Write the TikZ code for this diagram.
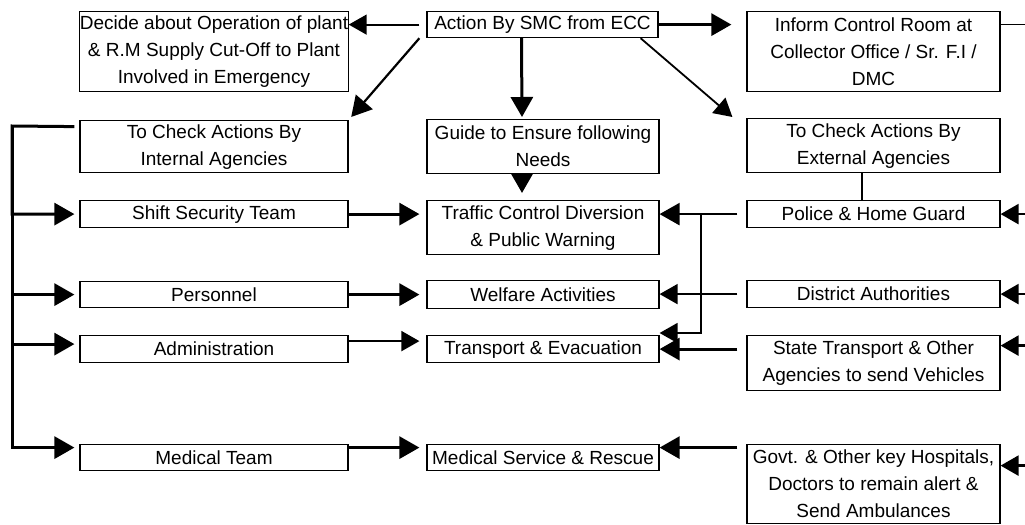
\documentclass[tikz,border=0pt]{standalone}
\usepackage{fontspec}
\setmainfont{Liberation Sans}
\usetikzlibrary{arrows.meta}
\begin{document}
\begin{tikzpicture}[x=0.5pt, y=-0.5pt,
    box/.style = {draw, line width=0.6pt, anchor=north, align=center, inner sep=0pt, font=\fontsize{9.5}{13.5}\selectfont},
    lbox/.style = {box, minimum width=134pt},
    mbox/.style = {box, minimum width=116pt},
    rbox/.style = {box, minimum width=126.5pt},
    arr/.style = {line width=1.5pt, -{Triangle[length=10pt, width=11pt]}},
    thinarr/.style = {line width=0.9pt, -{Triangle[length=9pt, width=10pt]}},
    link/.style = {line width=0.8pt}]
    \useasboundingbox (0,0) rectangle (1025,525);
    \node[lbox, minimum height=40pt] (decide) at (214,11) {Decide about Operation of plant\\ \& R.M Supply Cut-Off to Plant\\ Involved in Emergency};
    \node[mbox, minimum height=13pt, minimum width=115.5pt] (smc) at (542.5,11) {Action By SMC from ECC};
    \node[rbox, minimum height=40pt] (inform) at (873.5,11) {Inform Control Room at\\ Collector Office / Sr. F.I /\\ DMC};
    \node[lbox, minimum height=26pt] (intchk) at (214,120) {To Check Actions By\\ Internal Agencies};
    \node[mbox, minimum height=27pt] (guide) at (543,119) {Guide to Ensure following\\ Needs};
    \node[rbox, minimum height=27pt] (extchk) at (873.5,118) {To Check Actions By\\ External Agencies};
    \node[lbox, minimum height=13.5pt] (shift) at (214,200) {Shift Security Team};
    \node[mbox, minimum height=27pt] (traffic) at (543,200) {Traffic Control Diversion\\ \& Public Warning};
    \node[rbox, minimum height=13.5pt] (police) at (873.5,200) {Police \& Home Guard};
    \node[lbox, minimum height=13pt] (personnel) at (214,281) {Personnel};
    \node[mbox, minimum height=14pt] (welfare) at (543,280) {Welfare Activities};
    \node[rbox, minimum height=13.5pt] (district) at (873.5,280) {District Authorities};
    \node[lbox, minimum height=13.5pt] (admin) at (214,335) {Administration};
    \node[mbox, minimum height=13.5pt] (transport) at (543,335) {Transport \& Evacuation};
    \node[rbox, minimum height=27.5pt] (state) at (873.5,335) {State Transport \& Other\\ Agencies to send Vehicles};
    \node[lbox, minimum height=13pt] (medteam) at (214,444) {Medical Team};
    \node[mbox, minimum height=13pt] (medserv) at (543,444) {Medical Service \& Rescue};
    \node[rbox, minimum height=39.5pt] (govt) at (873.5,444) {Govt. \& Other key Hospitals,\\ Doctors to remain alert \&\\ Send Ambulances};
    \coordinate (lbus) at (12,126);
    \coordinate (rbus) at (701,0);
    \coordinate (ms) at ([yshift=5pt]medserv.east);
    \draw[thinarr, shorten <=3.5pt] (smc.west) -- (smc.west -| decide.east);
    \draw[arr, shorten >=7.5pt] (smc.east) -- (smc.east -| inform.west);
    \draw[arr, line width=1.1pt, shorten >=2pt] ([xshift=-3.5pt]smc.south west) -- (intchk.north east);
    \draw[arr] ([xshift=-10.5pt]smc.south) -- ([xshift=-10.5pt,yshift=1pt]guide.north);
    \draw[thinarr] ([xshift=-9pt]smc.south east) -- ([xshift=-7pt,yshift=0.5pt]extchk.north west);
    \draw[arr] ([xshift=-10.5pt]guide.south) -- ([xshift=-10.5pt,yshift=3.5pt]traffic.north);
    \draw[link, line width=1pt] ([xshift=-5.75pt]extchk.south) -- ([xshift=-5.75pt]police.north);
    \draw[arr, shorten >=2.5pt] ([xshift=-2.5pt,yshift=10pt]intchk.west) -- (lbus) |- (shift.west);
    \draw[arr, shorten >=2.5pt] (lbus) |- (personnel.west);
    \draw[arr, shorten >=2.5pt] (lbus) |- ([yshift=2.5pt]admin.west);
    \draw[arr, shorten >=2.5pt] (lbus) |- ([yshift=5pt]medteam.west);
    \draw[arr, shorten >=3.5pt] (shift.east) -- (shift.east -| traffic.west);
    \draw[arr, shorten >=3.5pt] (personnel.east) -- (welfare.west);
    \draw[thinarr, shorten >=3.5pt] ([yshift=4pt]admin.east) -- ([yshift=4pt]transport.west);
    \draw[arr, shorten >=3.5pt] ([yshift=5pt]medteam.east) -- ([yshift=5pt]medserv.west);
    \draw[arr, line width=1.2pt, shorten <=4.5pt] (police.west) -- (police.west -| traffic.east);
    \draw[thinarr, line width=0.8pt] (rbus |- police.west) |- ([yshift=1pt]transport.north east);
    \draw[thinarr, line width=0.8pt, shorten <=4.5pt] (district.west) -- (district.west -| welfare.east);
    \draw[arr, shorten <=4.5pt] (state.west |- transport.east) -- (transport.east);
    \draw[arr, shorten <=4.5pt] (govt.west |- ms) -- (ms);
    \draw[thinarr, line width=1.2pt] ([xshift=12.5pt]police.east) -- (police.east);
    \draw[thinarr, line width=1.2pt] ([xshift=12.5pt]district.east) -- (district.east);
    \draw[thinarr, line width=1.2pt] ([xshift=12.5pt,yshift=8.75pt]state.east) -- ([yshift=8.75pt]state.east);
    \draw[thinarr, line width=1.2pt] ([xshift=12.5pt,yshift=9.25pt]govt.east) -- ([yshift=9.25pt]govt.east);
    \draw[link] ([yshift=13.5pt]inform.east) -- ++(25,0);
\end{tikzpicture}
\end{document}
